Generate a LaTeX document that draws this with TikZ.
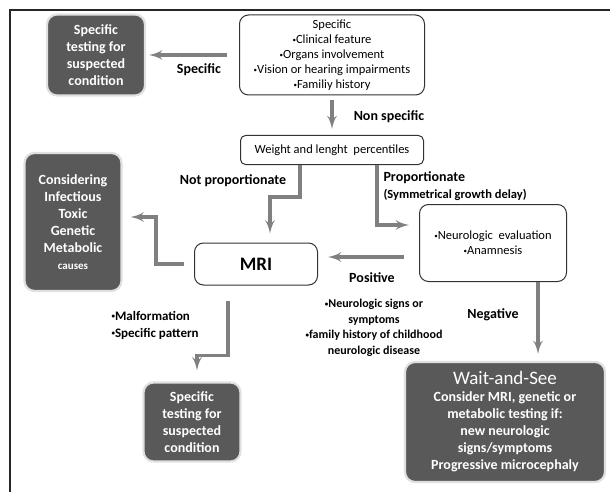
\documentclass[tikz,border=0pt]{standalone}
\usepackage{fontspec}
\setmainfont{Carlito}
\usepackage{tikz}
\usetikzlibrary{arrows}
\newcommand{\bul}{\raisebox{0.2ex}{\fontsize{7}{7}\selectfont\textbullet}}
\tikzstyle{whitebox}=[draw=black!80,line width=1pt,rounded corners=9pt,fill=white,align=center,font=\fontsize{12.5}{15}\selectfont]
\tikzstyle{darkbox}=[draw=black!12,line width=2.2pt,rounded corners=10pt,fill=black!65,text=white,align=center,font=\bfseries\fontsize{14}{17}\selectfont]
\tikzstyle{lbl}=[align=center,font=\bfseries\fontsize{14}{17}\selectfont]
\tikzstyle{line} = [draw, -latex', black!50, line width=3.5pt]

\begin{document}
\begin{tikzpicture}[x=1pt,y=-1pt]
  \useasboundingbox (0,0) rectangle (610,492);
  % frame
  \draw[line width=1.2pt,black!85] (10,492) -- (10,10) -- (610,10);

  \node[darkbox,minimum width=98pt,minimum height=81pt] (spectestA) at (96,55) {Specific\\testing for\\suspected\\condition};
  \node[whitebox,minimum width=185pt,minimum height=80pt] (specific) at (332,55) {Specific\\\bul Clinical feature\\\bul Organs involvement\\\bul Vision or hearing impairments\\\bul Familiy history};
  \node[whitebox,rounded corners=5pt,minimum width=183pt,minimum height=29pt] (weight) at (332,150) {Weight and lenght\ \ percentiles};
  \node[darkbox,minimum width=97pt,minimum height=138pt] (causes) at (73,222) {Considering\\Infectious\\Toxic\\Genetic\\Metabolic\\{\fontsize{11}{13}\selectfont causes}};
  \node[whitebox,minimum width=123pt,minimum height=42pt,font=\bfseries\fontsize{19}{22}\selectfont] (mri) at (256,264) {MRI};
  \node[whitebox,minimum width=147pt,minimum height=77pt] (neuro) at (493,243) {\bul Neurologic\ \ evaluation\\\bul Anamnesis};
  \node[darkbox,minimum width=97pt,minimum height=79pt] (spectestB) at (192,422) {Specific\\testing for\\suspected\\condition};
  \node[darkbox,minimum width=200pt,minimum height=120pt] (wait) at (505,422) {{\mdseries\fontsize{19}{22}\selectfont Wait-and-See}\\Consider MRI, genetic or\\metabolic testing if:\\new neurologic\\signs/symptoms\\Progressive microcephaly};

  % labels
  \node[lbl] (lblspec) at (199,70) {Specific};
  \node[lbl] (lblnonspec) at (389,117) {Non specific};
  \node[lbl] (lblnotprop) at (233,181) {Not proportionate};
  \node[lbl,anchor=west] (lblprop) at (380,178) {Proportionate};
  \node[lbl,anchor=west,font=\bfseries\fontsize{12.5}{15}\selectfont] (lblsym) at (380,195) {(Symmetrical growth delay)};
  \node[lbl] (lblpos) at (372,278) {Positive};
  \node[lbl,font=\bfseries\fontsize{12}{15.5}\selectfont] (lblsigns) at (374,328) {\bul Neurologic signs or\\symptoms\\\bul family history of childhood\\neurologic disease};
  \node[lbl] (lblneg) at (493,315) {Negative};
  \node[lbl,anchor=west,align=left,font=\bfseries\fontsize{13}{17}\selectfont] (lblmalf) at (108,325) {\bul Malformation\\\bul Specific pattern};

  % arrows
  \path [line,shorten <=12pt,shorten >=3pt] (specific.west) -- (spectestA.east);
  \path [line,shorten <=5pt,shorten >=6pt] (specific.south) -- (weight.north);
  \path [line,shorten >=1pt] (weight.south) ++(-32,0) -- ++(0,32) -| ([xshift=14pt,yshift=8pt]mri.north);
  \path [line,shorten >=10pt] (weight.south) ++(45,0) |- ([yshift=18pt]neuro.west);
  \coordinate (posstart) at ([yshift=-14pt]neuro.west);
  \path [line,shorten <=15pt,shorten >=10pt] (posstart) -- (posstart -| mri.east);
  \coordinate (negstart) at ([xshift=45pt]neuro.south);
  \path [line,shorten >=7pt] (negstart) -- (negstart |- wait.north);
  \path [line,shorten <=10pt,shorten >=8pt] (mri.west) -- ++(-38,0) |- ([yshift=5pt]causes.east);
  \path [line,shorten <=15pt,shorten >=11pt] ([xshift=-28pt]mri.south) -- ++(0,70) -| ([xshift=5pt]spectestB.north);
\end{tikzpicture}
\end{document}
